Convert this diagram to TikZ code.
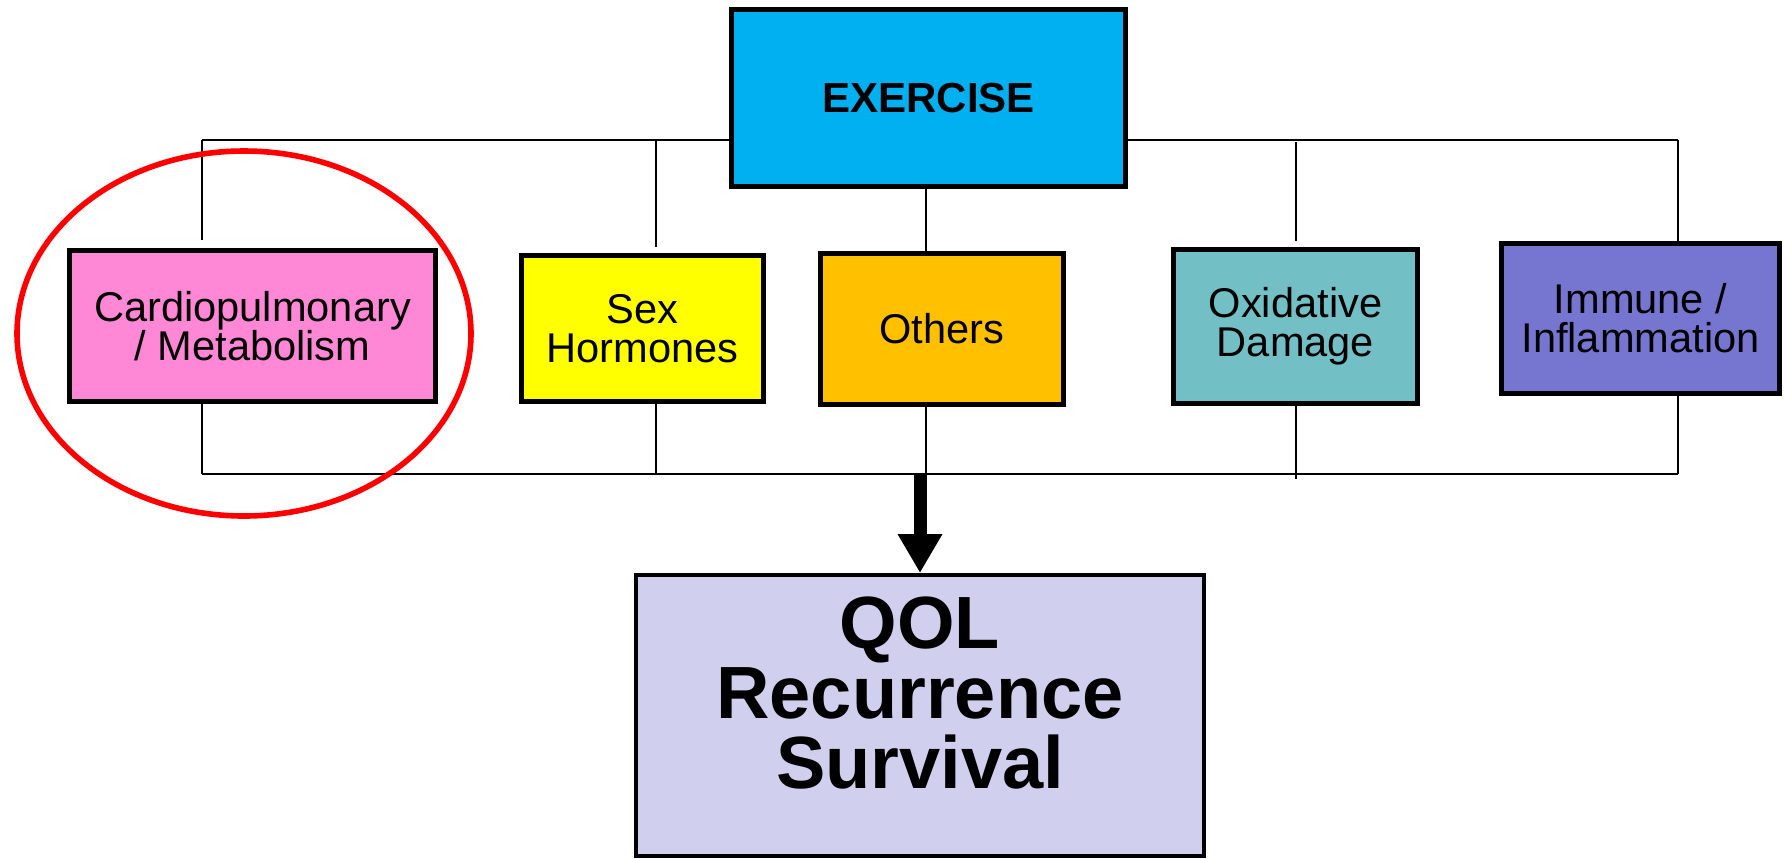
\documentclass[tikz,border=0pt]{standalone}
\usepackage{fontspec}
\setmainfont{Liberation Sans}
\usetikzlibrary{calc,arrows.meta,shapes.geometric}
\definecolor{excyan}{HTML}{00B0F0}
\definecolor{cardpink}{HTML}{FF88D6}
\definecolor{sexyel}{HTML}{FFFF00}
\definecolor{othorange}{HTML}{FFC000}
\definecolor{oxteal}{HTML}{72BFC5}
\definecolor{immpurple}{HTML}{7676D0}
\definecolor{qollav}{HTML}{D0D0EE}
\tikzset{
  box/.style={draw=black, line width=2.7pt, inner sep=0pt, align=center,
    font=\fontsize{20.8}{19.5}\selectfont},
  conn/.style={draw=black, line width=1pt},
  bigarrow/.style={draw=black, line width=6.5pt, -{Triangle[width=21pt,length=19.5pt]}},
  ring/.style={draw=red, line width=2.8pt, ellipse, inner sep=0pt}
}
\begin{document}
\begin{tikzpicture}[x=0.5pt,y=-0.5pt]
\useasboundingbox (0,0) rectangle (1787,858);
% boxes
\node[box, fill=excyan, minimum width=197pt, minimum height=88.5pt,
  font=\fontsize{21}{21}\selectfont\bfseries] (ex) at (928.5,98) {EXERCISE};
\node[box, fill=cardpink, minimum width=183pt, minimum height=75.5pt] (cardio) at (252.5,326) {Cardiopulmonary\\/ Metabolism};
\node[box, fill=sexyel, minimum width=121pt, minimum height=73pt] (sex) at (642.5,328.5) {Sex\\Hormones};
\node[box, fill=othorange, minimum width=121.5pt, minimum height=75.5pt] (oth) at (942,329) {Others};
\node[box, fill=oxteal, minimum width=122pt, minimum height=77pt] (oxid) at (1295.5,326.5) {Oxidative\\Damage};
\node[box, fill=immpurple, minimum width=139pt, minimum height=75pt] (imm) at (1640.5,318.5) {Immune /\\Inflammation};
\node[box, line width=2pt, fill=qollav, minimum width=284pt, minimum height=140.5pt] (qol) at (920,715.5) {};
\node[align=center, inner sep=0pt, font=\fontsize{37}{35}\selectfont\bfseries] (qoltext) at (920,693) {QOL\\Recurrence\\Survival};
% junction coordinates
\coordinate (tl) at (202,140);
\coordinate (tr) at (1678,140);
\coordinate (sx) at (656,140);
\coordinate (bl) at (202,474);
\coordinate (br) at (1678,474);
\coordinate (oc) at (926,474);
% top bus
\draw[conn] (tl) -- (tl -| ex.west);
\draw[conn] (tl -| ex.east) -- (tr);
\draw[conn] (tl) -- ($(tl |- cardio.north)+(0,-8)$);
\draw[conn] (sx) -- ($(sx |- sex.north)+(0,-6)$);
\draw[conn] (oc |- ex.south) -- (oc |- oth.north);
\draw[conn] ($(oxid.north |- tl)+(0,2)$) -- ($(oxid.north)+(0,-6)$);
\draw[conn] (tr) -- (tr |- imm.north);
% bottom bus
\draw[conn] (bl) -- (br);
\draw[conn] (bl |- cardio.south) -- (bl);
\draw[conn] ($(sx |- sex.south)+(0,-5)$) -- (sx |- bl);
\draw[conn] (oc |- oth.south) -- (oc);
\draw[conn] (oxid.south) -- ($(oxid.south |- bl)+(0,5)$);
\draw[conn] (br |- imm.south) -- (br);
% main arrow
\draw[bigarrow] (qol.north |- bl) -- (qol.north);
% highlight
\node[ring, minimum width=227pt, minimum height=182.5pt] (hl) at (244,333.5) {};
\end{tikzpicture}
\end{document}
